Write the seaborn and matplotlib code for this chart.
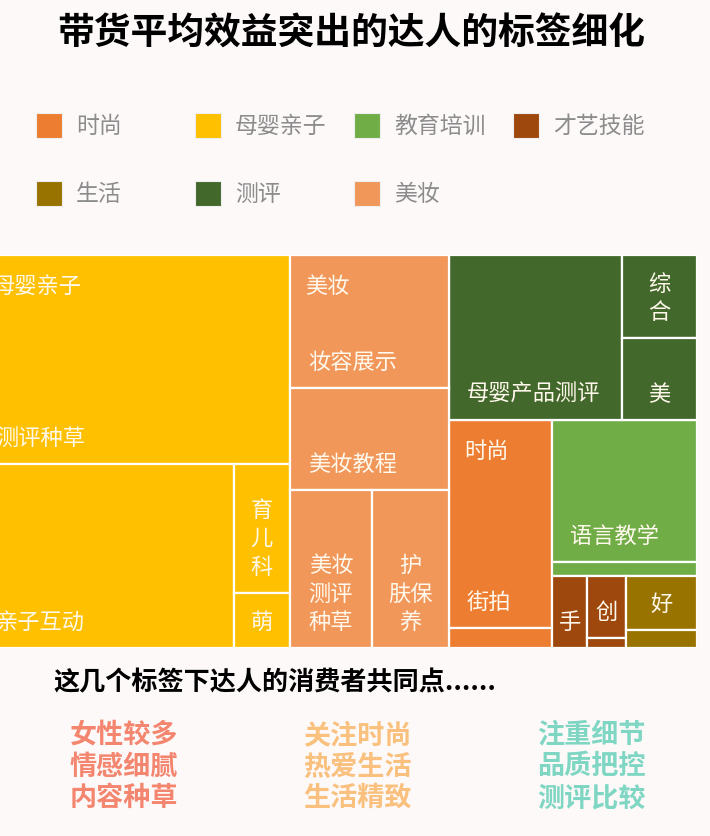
import numpy as np
import matplotlib
matplotlib.use('Agg')
import matplotlib.pyplot as plt
from matplotlib.patches import Patch
import seaborn as sns

# 一级标签
groups = ['时尚', '母婴亲子', '教育培训', '才艺技能', '生活', '测评', '美妆']
group_colors = ['#ed7d31', '#ffc000', '#70ad47', '#9e480e', '#997300', '#43682b', '#f1975a']
groups_with_title = ['母婴亲子', '美妆', '时尚']

# 二级标签（矩形面积 = 带货平均效益的相对值，按图估读）
tags_shishang = ['街拍', '穿搭']
vals_shishang = [21400, 2050]
shown_shishang = ['街拍', '']

tags_muying = ['测评种草', '亲子互动', '育儿科普', '萌娃']
vals_muying = [65200, 47100, 7200, 3100]
shown_muying = ['测评种草', '亲子互动', '育\n儿\n科', '萌']

tags_jiaoyu = ['语言教学', '知识分享']
vals_jiaoyu = [20700, 2050]
shown_jiaoyu = ['语言教学', '']

tags_caiyi = ['手工', '创意', '绘画']
vals_caiyi = [2560, 2350, 390]
shown_caiyi = ['手', '创', '']

tags_shenghuo = ['好物分享', '日常']
vals_shenghuo = [3830, 1270]
shown_shenghuo = ['好', '']

tags_ceping = ['母婴产品测评', '综合测评', '美妆测评']
vals_ceping = [28550, 6230, 6120]
shown_ceping = ['母婴产品测评', '综\n合', '美']

tags_meizhuang = ['妆容展示', '美妆教程', '美妆测评种草', '护肤保养']
vals_meizhuang = [21100, 16200, 13000, 12200]
shown_meizhuang = ['妆容展示', '美妆教程', '美妆\n测评\n种草', '护\n肤保\n养']

title = '带货平均效益突出的达人的标签细化'
summary_title = '这几个标签下达人的消费者共同点......'
traits_1 = ['女性较多', '情感细腻', '内容种草']
traits_2 = ['关注时尚', '热爱生活', '生活精致']
traits_3 = ['注重细节', '品质把控', '测评比较']
trait_colors = ['#f4866f', '#f9c07e', '#7fd6c3']

children = {
    '时尚': (vals_shishang, shown_shishang),
    '母婴亲子': (vals_muying, shown_muying),
    '教育培训': (vals_jiaoyu, shown_jiaoyu),
    '才艺技能': (vals_caiyi, shown_caiyi),
    '生活': (vals_shenghuo, shown_shenghuo),
    '测评': (vals_ceping, shown_ceping),
    '美妆': (vals_meizhuang, shown_meizhuang),
}


def slice_layout(values, x, y, w, h):
    # each item takes a strip across the shorter side of what is left
    order = np.argsort(values, kind='stable')[::-1]
    scale = w * h / sum(values)
    rects = [None] * len(values)
    for k, i in enumerate(order):
        area = values[i] * scale
        last = k == len(order) - 1
        if w <= h:
            dh = h if last else area / w
            rects[i] = (x, y, w, dh)
            y += dh
            h -= dh
        else:
            dw = w if last else area / h
            rects[i] = (x, y, dw, h)
            x += dw
            w -= dw
    return rects


sns.set_theme(style='white')
plt.rcParams['font.family'] = ['Noto Sans CJK SC', 'DejaVu Sans']

bg = '#fdf9f9'
fig = plt.figure(figsize=(7.1, 8.36), dpi=100, facecolor=bg)

H = 393
group_totals = [sum(children[g][0]) for g in groups]
W = sum(group_totals) / H
group_rects = slice_layout(group_totals, 0, 0, W, H)

ax = fig.add_axes([0, (836 - 648) / 836, 697 / 710, H / 836])
ax.set_facecolor(bg)
label_color = '#fff8ec'

for g, color, (gx, gy, gw, gh) in zip(groups, group_colors, group_rects):
    vals, shown = children[g]
    rects = slice_layout(vals, gx, gy, gw, gh)
    xs = [r[0] for r in rects]
    ys = [r[1] for r in rects]
    ws = [r[2] for r in rects]
    hs = [r[3] for r in rects]
    ax.bar(xs, hs, width=ws, bottom=ys, align='edge', color=color,
           edgecolor='white', linewidth=1.6)
    for (x, y, w, h), lab in zip(rects, shown):
        if not lab:
            continue
        if w < 90:
            ax.text(x + w / 2, y + h - 19, lab, ha='center', va='baseline',
                    multialignment='center', fontsize=16, color=label_color,
                    linespacing=1.3)
        else:
            ax.text(x + 18, y + h - 19, lab, ha='left', va='baseline',
                    fontsize=16, color=label_color)
    if g in groups_with_title:
        ax.text(gx + 15, gy + 38, g, ha='left', va='baseline',
                fontsize=16, color=label_color)

ax.set_xlim(W - 697, W)
ax.set_ylim(H, 0)
ax.axis('off')

# title
fig.text(351 / 710, 1 - 34 / 836, title, ha='center', va='center',
         fontsize=26.5, fontweight='bold', color='black')

# legend, four fixed-width columns
for j in range(4):
    idx = [i for i in (j, j + 4) if i < len(groups)]
    handles = [Patch(facecolor=group_colors[i], edgecolor='#eeeeee', linewidth=0.8) for i in idx]
    fig.legend(handles, [groups[i] for i in idx], loc='upper left',
               bbox_to_anchor=((36 + 159 * j) / 710, 1 - 113 / 836),
               frameon=False, fontsize=16.5, labelcolor='#8c8c8c',
               handlelength=1.15, handleheight=1.3, handletextpad=0.6,
               labelspacing=1.85, borderpad=0, borderaxespad=0)

# summary below the treemap
fig.text(53 / 710, 1 - 683 / 836, summary_title, ha='left', va='center',
         fontsize=18.8, fontweight='bold', color='black')
for col_x, traits, c in zip([70, 303, 537], [traits_1, traits_2, traits_3], trait_colors):
    for k, t in enumerate(traits):
        fig.text(col_x / 710, 1 - (735 + 31.5 * k) / 836, t, ha='left', va='center',
                 fontsize=19.5, fontweight='black', color=c)

fig.savefig('out.png', dpi=100, facecolor=bg)
